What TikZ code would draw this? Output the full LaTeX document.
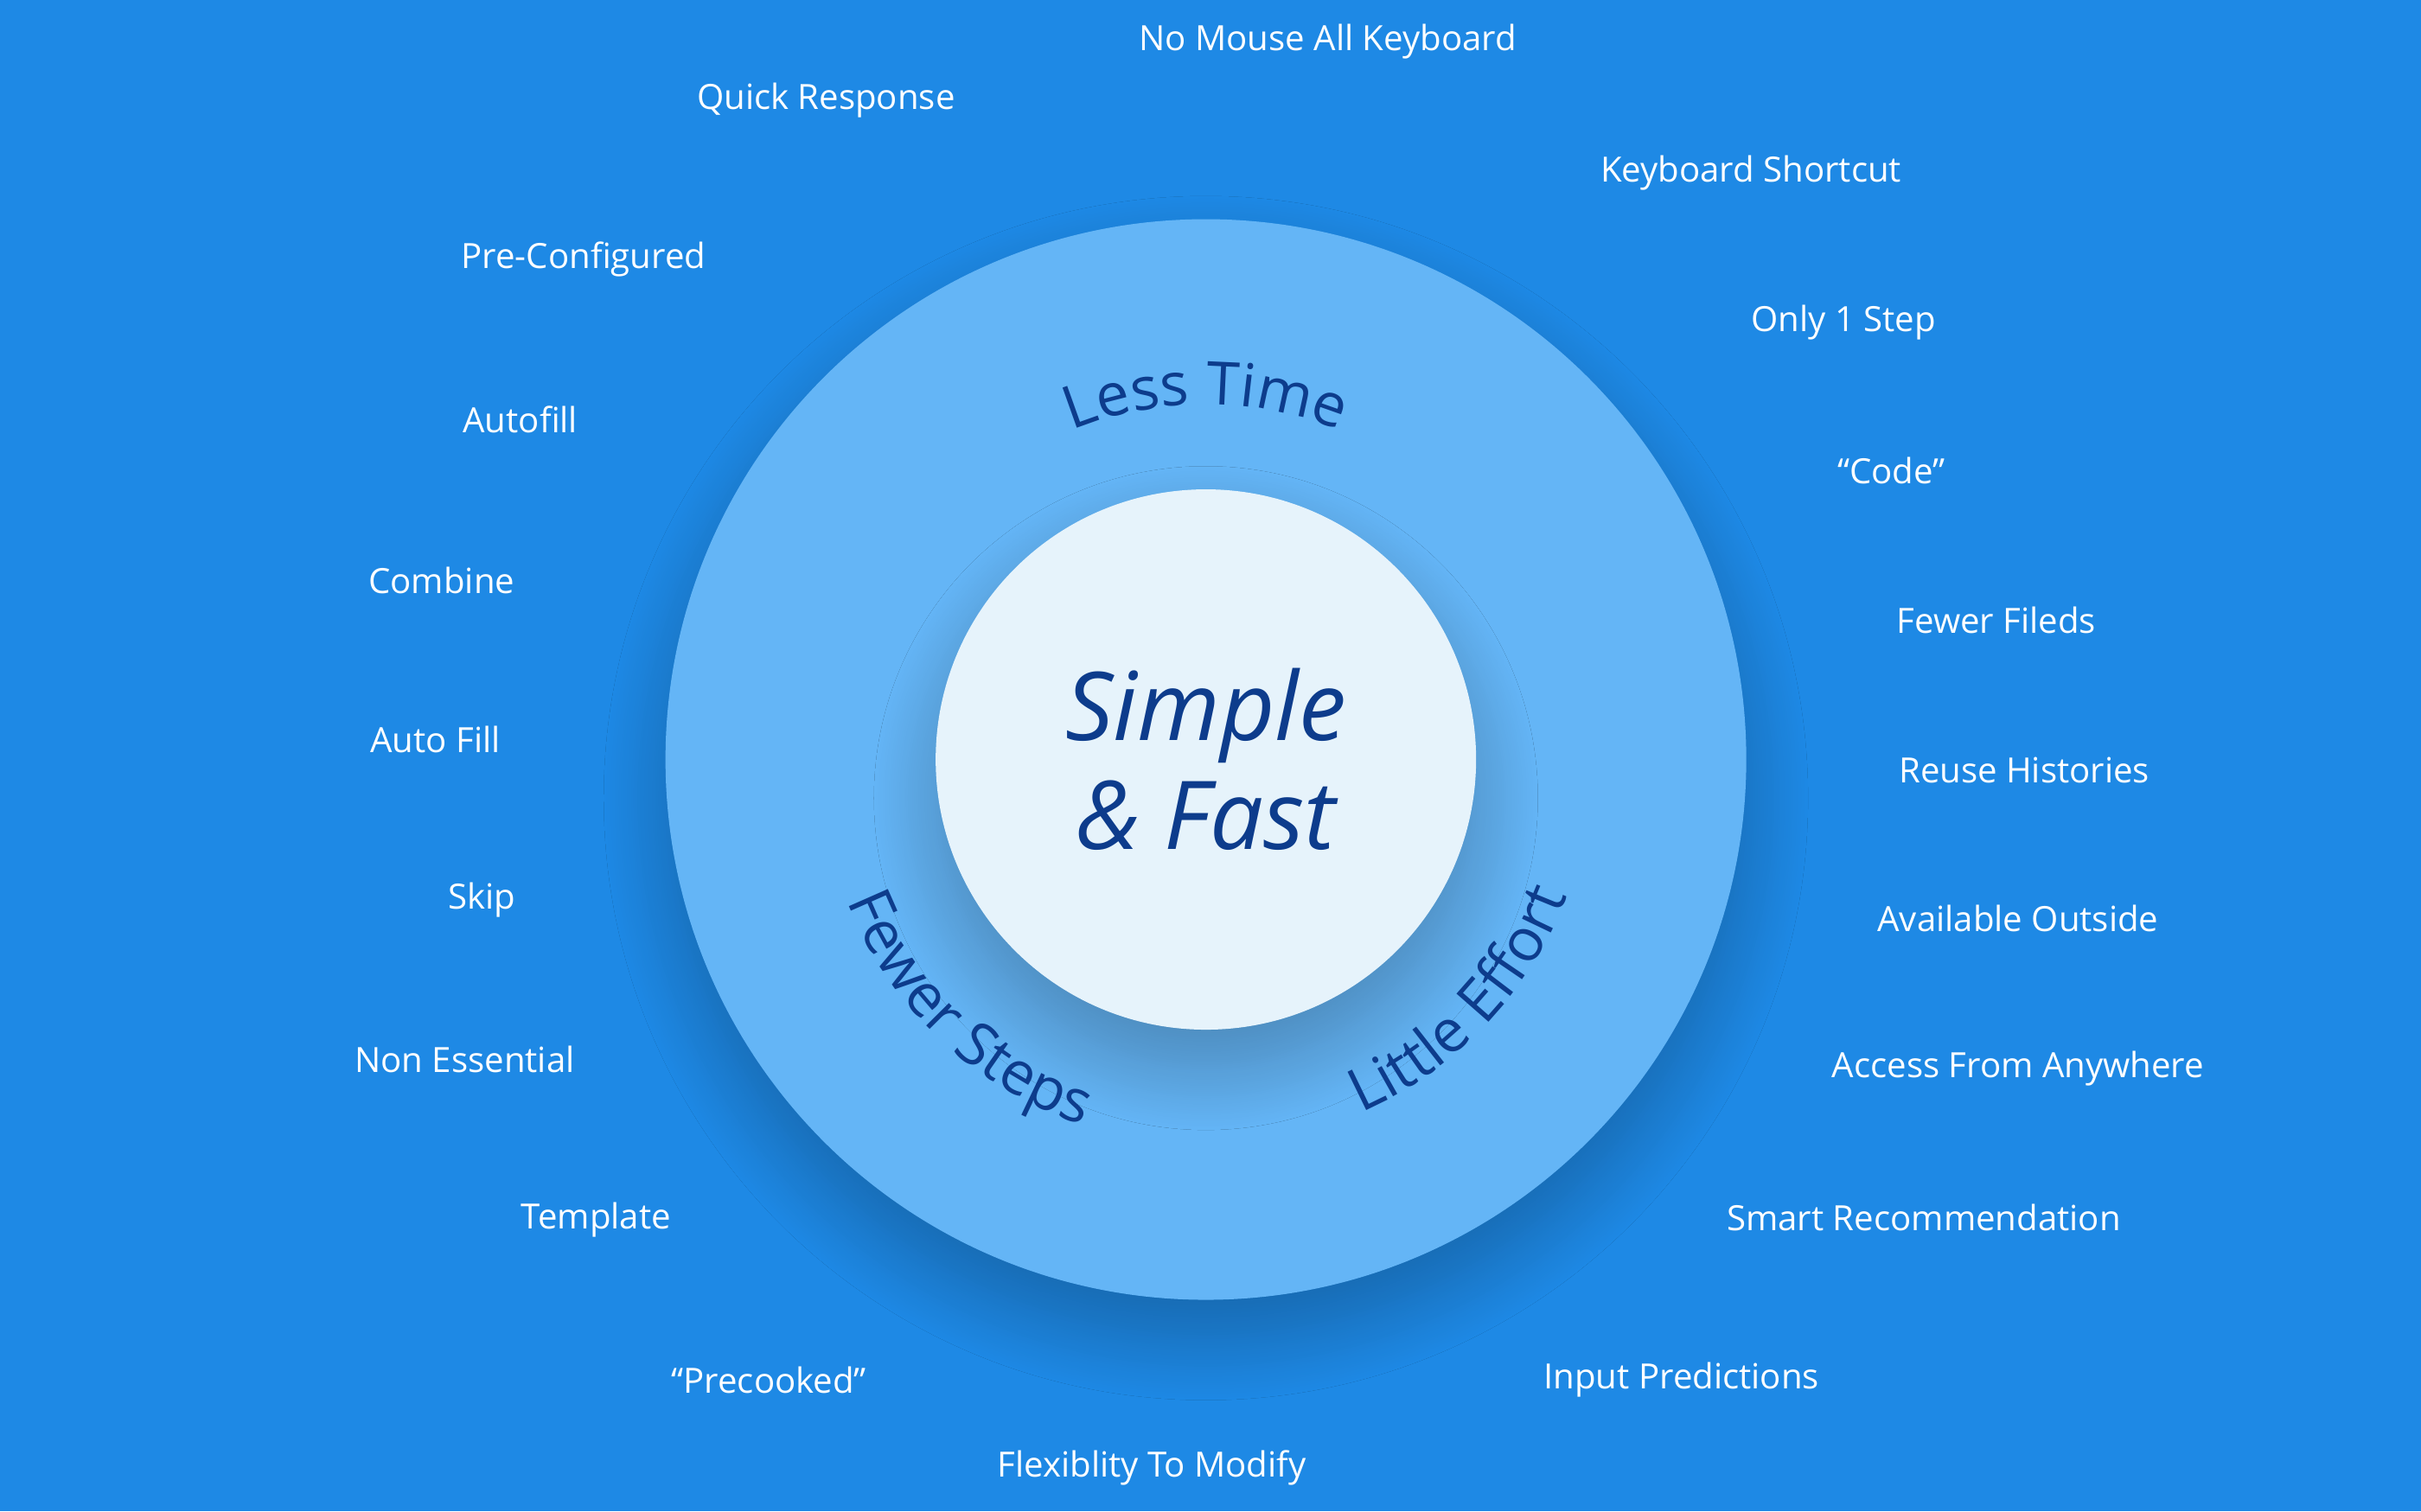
\documentclass[tikz,border=0pt]{standalone}
\usepackage{fontspec}
\setmainfont{Open Sans}
\usetikzlibrary{decorations.text,shadows.blur}
\definecolor{bg}{RGB}{30,137,229}
\definecolor{ring}{RGB}{100,181,246}
\definecolor{core}{RGB}{230,243,251}
\definecolor{navy}{RGB}{13,60,140}
\newcommand{\cfont}{\fontsize{11}{11}\selectfont\color{navy}}
\tikzset{lab/.style={text=white,font=\fontsize{6.4}{7}\selectfont,inner sep=0pt,anchor=center},
 curve/.style={decorate,decoration={text along path,text align=center,text color=navy}},
 shad/.style={blur shadow={shadow xshift=0pt,shadow yshift=-0.25cm,shadow blur radius=0.4cm,shadow blur steps=30,shadow opacity=25}}}
\begin{document}
\begin{tikzpicture}
\path[fill=bg,use as bounding box] (0,0) rectangle (15.68,9.79);
\coordinate (c) at (7.81,4.87);
\fill[ring,shad] (c) circle (3.5);
\fill[core,shad] (c) circle (1.75);
\node[text=navy,font=\fontsize{17.5}{20}\selectfont\itshape,align=center] (t) at (7.81,4.87) {Simple\\\& Fast};
\path[curve,decoration={text={|\cfont|Less Time}}] (c) ++(120:2.3) arc (120:60:2.3);
\path[curve,decoration={text={|\cfont|Fewer Steps}}] (c) ++(197:2.5) arc (197:256:2.5);
\path[curve,decoration={text={|\cfont|Little Effort}}] (c) ++(-70:2.5) arc (-70:-17:2.5);
\node[lab] (l1) at (8.60,9.52) {No Mouse All Keyboard};
\node[lab] (l2) at (5.35,9.14) {Quick Response};
\node[lab] (l3) at (11.34,8.67) {Keyboard Shortcut};
\node[lab] (l4) at (3.78,8.11) {Pre-Configured};
\node[lab] (l5) at (11.94,7.70) {Only 1 Step};
\node[lab] (l6) at (3.37,7.07) {Autofill};
\node[lab] (l7) at (12.25,6.74) {“Code”};
\node[lab] (l8) at (2.86,6.03) {Combine};
\node[lab] (l9) at (12.93,5.77) {Fewer Fileds};
\node[lab] (l10) at (2.82,5.00) {Auto Fill};
\node[lab] (l11) at (13.11,4.80) {Reuse Histories};
\node[lab] (l12) at (3.12,3.96) {Skip};
\node[lab] (l13) at (13.07,3.84) {Available Outside};
\node[lab] (l14) at (3.01,2.93) {Non Essential};
\node[lab] (l15) at (13.07,2.87) {Access From Anywhere};
\node[lab] (l16) at (3.86,1.89) {Template};
\node[lab] (l17) at (12.46,1.90) {Smart Recommendation};
\node[lab] (l18) at (4.98,0.85) {“Precooked”};
\node[lab] (l19) at (10.89,0.85) {Input Predictions};
\node[lab] (l20) at (7.46,0.28) {Flexiblity To Modify};
\end{tikzpicture}
\end{document}
